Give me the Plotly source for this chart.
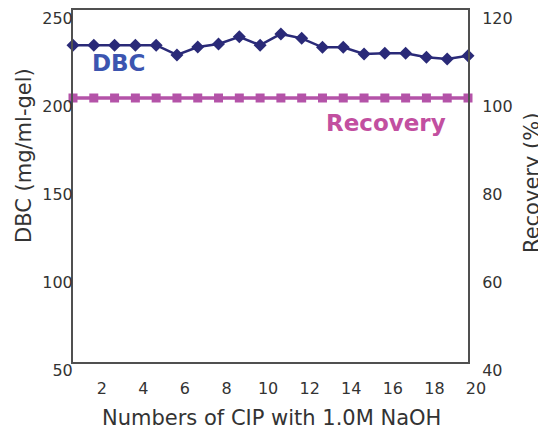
import plotly.graph_objects as go

cycles = list(range(1, 21))
dbc = [230, 230, 230, 230, 230, 224.5, 229, 230.7, 234.8, 230, 236.4, 233.9,
       228.8, 228.8, 225, 225.4, 225.4, 223.1, 222.2, 224]
recovery = [100] * 20
x_ticks = list(range(2, 21, 2))
left_ticks = [50, 100, 150, 200, 250]
right_ticks = [40, 60, 80, 100, 120]

FONT = "DejaVu Sans"
AX = "#505050"
TXT = "#333333"
DBC_C = "#2a2a78"
REC_C = "#b453a8"

# the page body has an 8px margin, so the figure is offset by 8px
OFF = 8
W, H = 546 - OFF, 436 - OFF
l, t = 73 - OFF, 10 - OFF
r = W - (468 - OFF)
b = H - (362 - OFF)

fig = go.Figure()
fig.add_trace(go.Scatter(
    x=cycles, y=recovery, yaxis="y2", mode="lines+markers",
    line=dict(color=REC_C, width=3.5),
    marker=dict(symbol="square", size=9, color=REC_C),
    cliponaxis=False, showlegend=False))
fig.add_trace(go.Scatter(
    x=cycles, y=dbc, mode="lines+markers",
    line=dict(color=DBC_C, width=2.5),
    marker=dict(symbol="diamond", size=10, color=DBC_C),
    cliponaxis=False, showlegend=False))

fig.update_layout(
    width=W, height=H,
    margin=dict(l=l, r=r, t=t, b=b, autoexpand=False),
    paper_bgcolor="white", plot_bgcolor="white",
    font=dict(family=FONT, color=TXT, size=16),
    xaxis=dict(range=[1, 20], tickvals=x_ticks, ticks="", showgrid=False,
               zeroline=False, showline=True, linecolor=AX, linewidth=2,
               mirror=True, ticklabelshift=8, ticklabelstandoff=11,
               automargin=False, tickfont=dict(size=16, color=TXT)),
    yaxis=dict(range=[50, 250], tickvals=left_ticks, ticks="", showgrid=False,
               zeroline=False, showline=True, linecolor=AX, linewidth=2,
               ticklabelshift=8, ticklabelstandoff=-5, automargin=False,
               tickfont=dict(size=16, color=TXT)),
    yaxis2=dict(range=[40, 120], tickvals=right_ticks, overlaying="y",
                side="right", ticks="", showgrid=False, zeroline=False,
                showline=True, linecolor=AX, linewidth=2, automargin=False,
                ticklabelshift=8, ticklabelstandoff=9,
                tickfont=dict(size=16, color=TXT)),
    annotations=[
        dict(text="<b>DBC</b>", x=119, y=63, showarrow=False,
             font=dict(size=23, color="#3c55b0", family=FONT),
             xanchor="center", yanchor="middle"),
        dict(text="<b>Recovery</b>", x=386, y=123, showarrow=False,
             font=dict(size=23, color="#c24fa0", family=FONT),
             xanchor="center", yanchor="middle"),
        dict(text="Numbers of CIP with 1.0M NaOH", x=271, y=418, showarrow=False,
             font=dict(size=21, color=TXT, family=FONT),
             xanchor="center", yanchor="middle"),
        dict(text="DBC (mg/ml-gel)", x=24, y=156, showarrow=False, textangle=-90,
             font=dict(size=21, color=TXT, family=FONT),
             xanchor="center", yanchor="middle"),
        dict(text="Recovery (%)", x=532, y=183, showarrow=False, textangle=-90,
             font=dict(size=21, color=TXT, family=FONT),
             xanchor="center", yanchor="middle"),
    ],
)

# convert page-pixel positions of annotations into paper coordinates
pw, ph = W - l - r, H - t - b
for a in fig.layout.annotations:
    a.xref = "paper"
    a.yref = "paper"
    a.x = (a.x - OFF - l) / pw
    a.y = (H - b - (a.y - OFF)) / ph

fig.write_html("out.html")
